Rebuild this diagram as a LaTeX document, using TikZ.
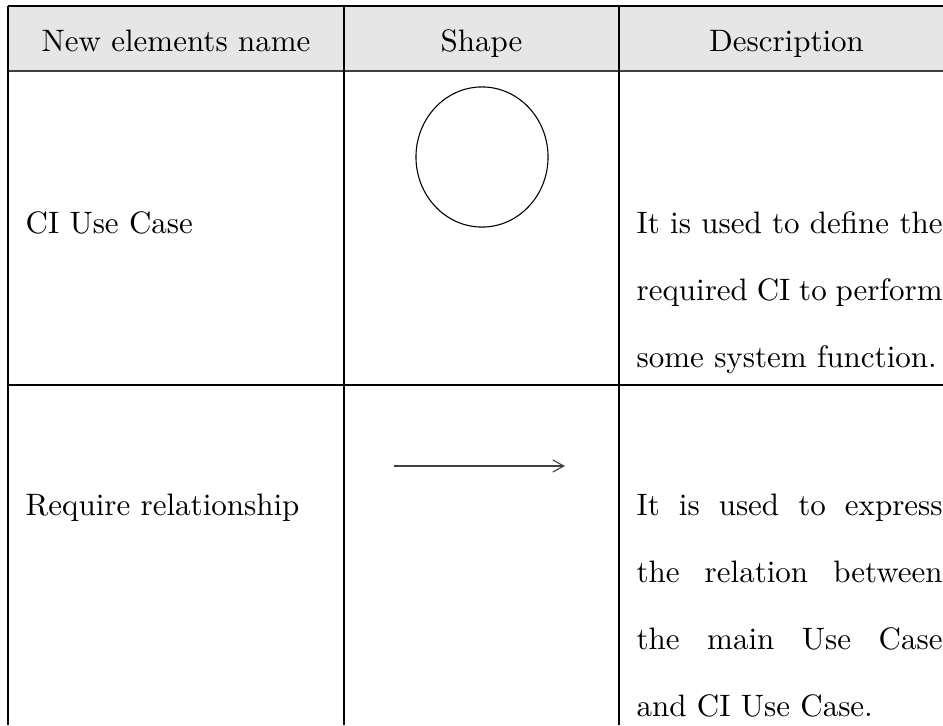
\documentclass[tikz,border=0pt]{standalone}
\usetikzlibrary{arrows.meta,shapes.geometric}
\definecolor{headgrey}{RGB}{230,230,230}
\begin{document}
\begin{tikzpicture}[x=0.32258pt,y=-0.32258pt,
  rule/.style={line width=0.4pt, draw=black},
  txt/.style={inner sep=0pt, anchor=base west, font=\fontsize{10}{12}\selectfont},
  headtxt/.style={inner sep=0pt, anchor=base, font=\fontsize{10}{12}\selectfont},
  usecase/.style={ellipse, draw, line width=0.35pt, inner sep=0pt,
    minimum width=42.6pt, minimum height=45.2pt},
  relarrow/.style={line width=0.35pt, draw=black!75, -{Straight Barb[length=3.6pt,width=3.9pt]}},
]
\useasboundingbox (0,0) rectangle (943,725);

% header band
\fill[headgrey] (8,6) rectangle (960,70.7);

% table rules
\draw[rule] (8,6) -- (960,6);
\draw[rule, draw=black!75, line width=0.55pt] (8,70.7) -- (960,70.7);
\draw[rule] (8,385) -- (960,385);
\draw[rule] (8,6) -- (8,725);
\draw[rule] (344,6) -- (344,725);
\draw[rule] (619,6) -- (619,725);

% header
\node[headtxt] (hname)  at (176,52)   {New elements name};
\node[headtxt] (hshape) at (481.5,52) {Shape};
\node[headtxt] (hdesc)  at (786.5,52) {Description};

% row 1: CI use case
\node[txt] (n1) at (25,233) {CI Use Case};
\node[usecase] (cishape) at (482,157) {};
\node[txt] (d1a) at (636,233) {\makebox[98.7pt][s]{It is used to define the}};
\node[txt] (d1b) at (636,300) {\makebox[98.7pt][s]{required CI to perform}};
\node[txt] (d1c) at (636,367) {some system function.};

% row 2: require relationship
\node[txt] (n2) at (25,515) {Require relationship};
\coordinate (relfrom) at (394,466);
\coordinate (relto) at (565,466);
\draw[relarrow] (relfrom) -- (relto);
\node[txt] (d2a) at (636,515) {\makebox[98.7pt][s]{It is used to express}};
\node[txt] (d2b) at (636,582) {\makebox[98.7pt][s]{the relation between}};
\node[txt] (d2c) at (636,649) {\makebox[98.7pt][s]{the main Use Case}};
\node[txt] (d2d) at (636,716) {and CI Use Case.};
\end{tikzpicture}
\end{document}
